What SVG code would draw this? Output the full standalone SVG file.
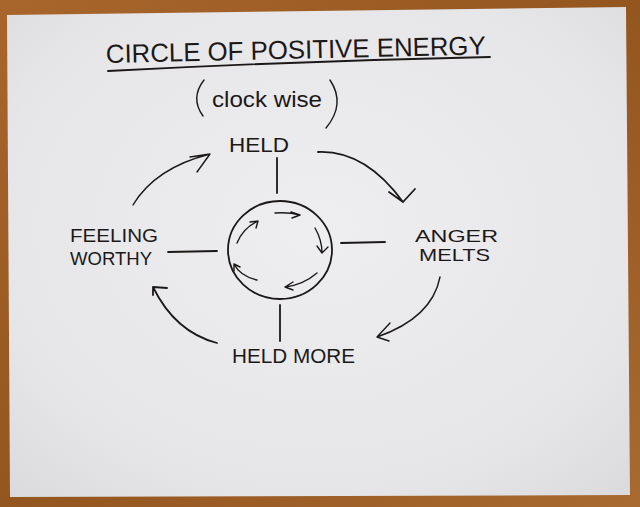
<svg xmlns="http://www.w3.org/2000/svg" width="640" height="507" viewBox="0 0 640 507">
<defs>
<linearGradient id="wood" x1="0" y1="0" x2="1" y2="1">
<stop offset="0" stop-color="#a8662c"/>
<stop offset="0.5" stop-color="#94561f"/>
<stop offset="1" stop-color="#a86a30"/>
</linearGradient>
<radialGradient id="paper" cx="0.5" cy="0.45" r="0.75">
<stop offset="0" stop-color="#eeeef0"/>
<stop offset="0.7" stop-color="#e6e6e8"/>
<stop offset="1" stop-color="#dadadc"/>
</radialGradient>
<style>
.ink{fill:none;stroke:#1c1818;stroke-width:1.8;stroke-linecap:round;stroke-linejoin:round}
.thin{fill:none;stroke:#1c1818;stroke-width:1.4;stroke-linecap:round;stroke-linejoin:round}
.lbl{font-family:"Liberation Sans","DejaVu Sans",sans-serif;fill:#1c1818;font-weight:normal}
</style>
</defs>
<rect x="0" y="0" width="640" height="507" fill="url(#wood)"/>
<polygon points="7,15 626,7 630,495 10,497" fill="url(#paper)"/>

<g id="title">
<text class="lbl" x="106" y="63" font-size="26" textLength="380" lengthAdjust="spacingAndGlyphs" transform="rotate(-1.3 106 63)">CIRCLE OF POSITIVE ENERGY</text>
<path class="ink" d="M108,71 Q300,61 490,57"/>
</g>
<g id="subtitle">
<path class="thin" d="M204,80 Q190,98 203,116"/>
<text class="lbl" x="212" y="107" font-size="22" textLength="110" lengthAdjust="spacingAndGlyphs">clock wise</text>
<path class="thin" d="M330,80 Q346,104 326,128"/>
</g>

<g id="held">
<text class="lbl" x="229" y="152" font-size="20" textLength="60" lengthAdjust="spacingAndGlyphs">HELD</text>
</g>
<g id="anger-melts">
<text class="lbl" x="415" y="242" font-size="17" textLength="83" lengthAdjust="spacingAndGlyphs">ANGER</text>
<text class="lbl" x="419" y="261" font-size="17" textLength="71" lengthAdjust="spacingAndGlyphs">MELTS</text>
</g>
<g id="held-more">
<text class="lbl" x="232" y="363" font-size="20" textLength="123" lengthAdjust="spacingAndGlyphs">HELD MORE</text>
</g>
<g id="feeling-worthy">
<text class="lbl" x="70" y="242" font-size="18" textLength="88" lengthAdjust="spacingAndGlyphs">FEELING</text>
<text class="lbl" x="70" y="265" font-size="18" textLength="82" lengthAdjust="spacingAndGlyphs">WORTHY</text>
</g>
<g id="center-circle">
<ellipse class="ink" cx="280" cy="250" rx="52" ry="49"/>
<path class="thin" d="M275,213 Q289,212 300,215 M291,212 L300,215 L292,218"/>
<path class="thin" d="M315,228 Q322,240 322,253 M317,246 L322,253 L328,247"/>
<path class="thin" d="M317,273 Q303,285 285,287 M293,282 L285,287 L293,290"/>
<path class="thin" d="M257,280 Q240,276 234,264 M234,271 L234,264 L240,267"/>
<path class="thin" d="M237,243 Q243,228 258,221 M250,222 L258,221 L256,228"/>
</g>

<g id="connectors">
<path class="ink" d="M277,158 L277,193"/>
<path class="ink" d="M341,243 L385,242"/>
<path class="ink" d="M168,252 L217,251"/>
<path class="ink" d="M280,305 L280,341"/>
<path class="ink" d="M318,152 Q365,150 403,202 M389,192 L403,202 L415,189"/>
<path class="thin" d="M440,277 Q432,318 377,337 M390,323 L377,337 L389,341"/>
<path class="ink" d="M217,343 Q175,332 153,287 M167,288 L153,287 L153,295"/>
<path class="thin" d="M133,205 Q155,168 210,154 M190,157 L210,154 L197,172"/>
</g>
</svg>
